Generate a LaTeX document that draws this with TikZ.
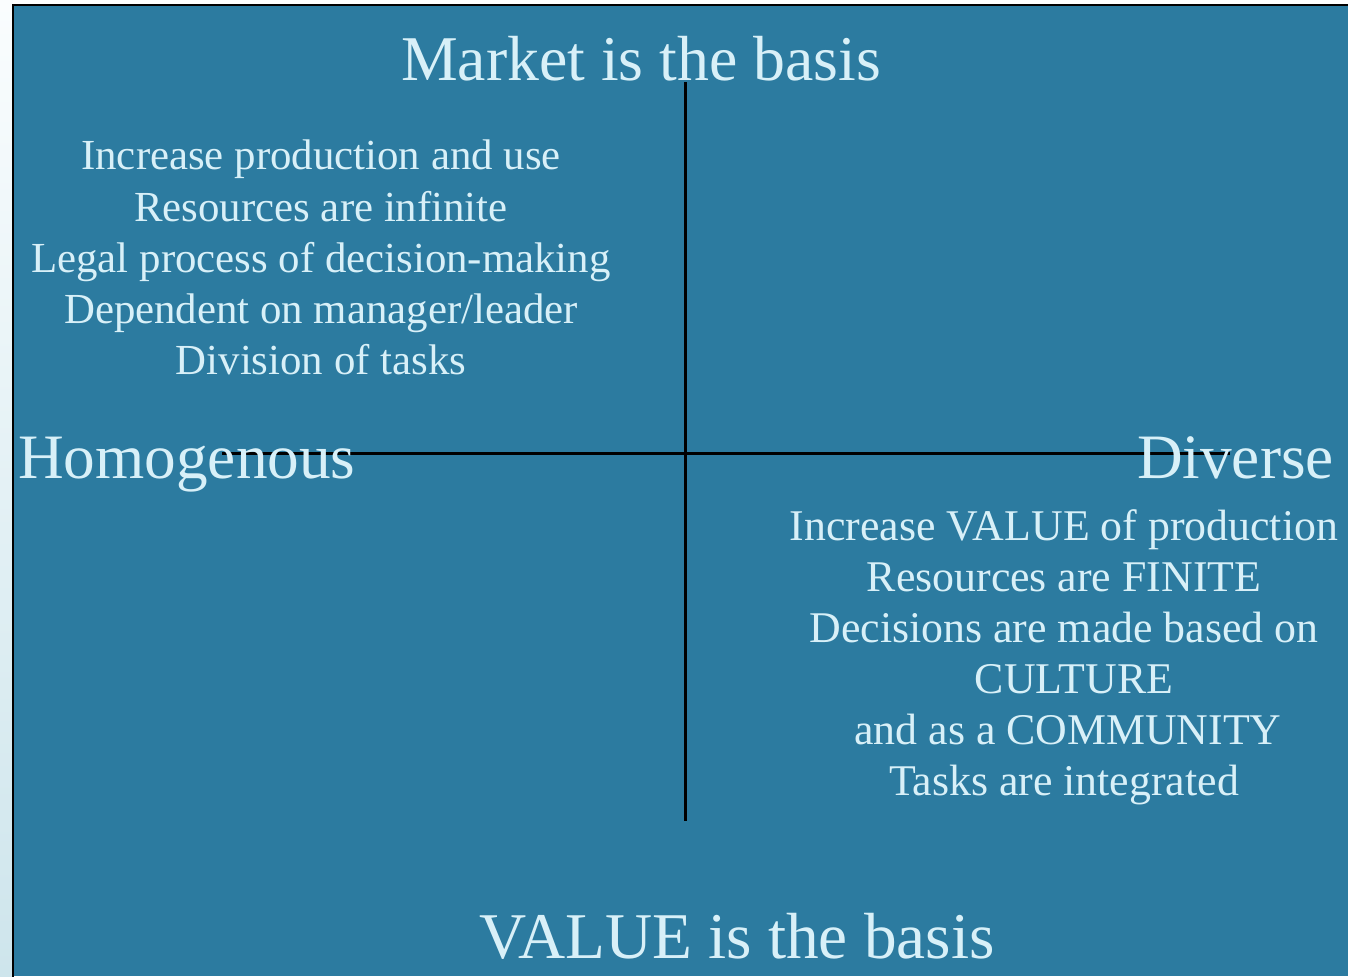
\documentclass[tikz,border=0pt]{standalone}
\usepackage{fontspec}
\setmainfont{Liberation Serif}
\usetikzlibrary{positioning}

\definecolor{panelblue}{RGB}{44,123,160}
\definecolor{paletext}{RGB}{216,240,248}
\definecolor{stripetop}{RGB}{250,253,254}
\definecolor{stripebot}{RGB}{206,229,236}

\begin{document}
\begin{tikzpicture}[
  x=1bp, y=-1bp,
  axis/.style={draw=black, line width=3bp},
  heading/.style={text=paletext, inner sep=0pt, anchor=base,
    font=\fontsize{64}{70}\selectfont},
  pole/.style={text=paletext, inner sep=0pt, anchor=base,
    font=\fontsize{63.5}{70}\selectfont},
  quadtext/.style={text=paletext, inner sep=0pt, anchor=north, align=center,
    font=\fontsize{43}{51.3}\selectfont}
]
  \useasboundingbox (0,0) rectangle (1348,976);

  % --- Background ---
  \shade[top color=stripetop, bottom color=stripebot] (0,0) rectangle (13,976);
  \fill[panelblue] (13,5) rectangle (1348,976);
  \draw[black, line width=2.2bp] (13,978) -- (13,5) -- (1350,5);

  % --- Axes ---
  \coordinate (vtop) at (685,82);
  \coordinate (vbot) at (685,821);
  \coordinate (hleft) at (222,453);
  \coordinate (hright) at (1230,453);
  \draw[axis] (vtop) -- (vbot);
  \draw[axis] (hleft) -- (hright);

  % --- Poles ---
  \node[heading] (market) at (641,80) {Market is the basis};
  \node[heading, font=\fontsize{65.5}{70}\selectfont] (value) at (737,958) {VALUE is the basis};
  \node[pole, anchor=base west] (homog) at (18,478) {Homogenous};
  \node[pole, anchor=base east] (diverse) at (1334,478) {Diverse};

  % --- Quadrant texts ---
  \node[quadtext] (marketside) at (321,140) {Increase production and use\\
    Resources are infinite\\
    Legal process of decision-making\\
    Dependent on manager/leader\\
    Division of tasks};
  \node[quadtext, font=\fontsize{44}{51.3}\selectfont] (valueside) at (1064,509) {Increase VALUE of production\\
    Resources are FINITE\\
    Decisions are made based on\\
    \hspace*{20bp}CULTURE\\
    \hspace*{8bp}and as a COMMUNITY\\
    Tasks are integrated};

\end{tikzpicture}
\end{document}
